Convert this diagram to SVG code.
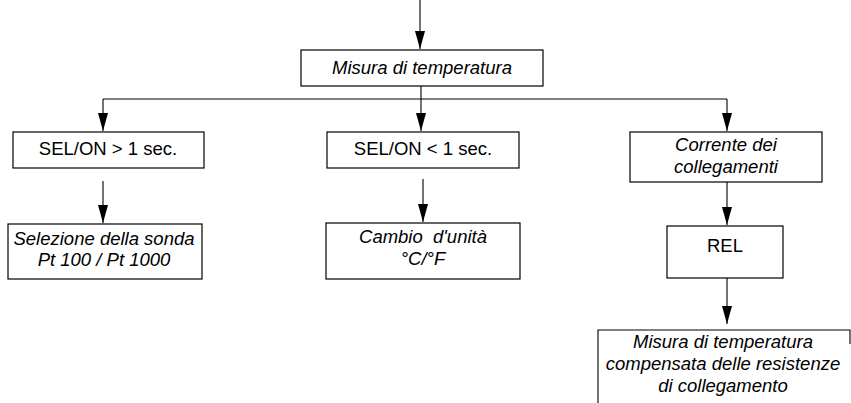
<svg xmlns="http://www.w3.org/2000/svg" width="851" height="403" viewBox="0 0 851 403">
<style>
.box{fill:#fff;stroke:#000;stroke-width:1.2}
.ln{fill:none;stroke:#000;stroke-width:1.1}
.t{font-family:"Liberation Sans",Arial,sans-serif;font-size:18.5px;fill:#000;text-anchor:middle}
.i{font-style:italic}
</style>
<defs>
<marker id="ah" viewBox="0 0 18 10" refX="18" refY="5" markerWidth="18" markerHeight="10" markerUnits="userSpaceOnUse" orient="auto">
<path d="M0,0 L18,5 L0,10 z" fill="#000"/>
</marker>
</defs>
<g id="connectors">
<line class="ln" x1="420" y1="0" x2="420" y2="49" marker-end="url(#ah)"/>
<line class="ln" x1="421" y1="86" x2="421" y2="99"/>
<line class="ln" x1="103" y1="99" x2="727" y2="99"/>
<line class="ln" x1="103" y1="99" x2="103" y2="131" marker-end="url(#ah)"/>
<line class="ln" x1="421" y1="99" x2="421" y2="131" marker-end="url(#ah)"/>
<line class="ln" x1="727" y1="99" x2="727" y2="131" marker-end="url(#ah)"/>
<line class="ln" x1="103" y1="181" x2="103" y2="223" marker-end="url(#ah)"/>
<line class="ln" x1="423" y1="179" x2="423" y2="222" marker-end="url(#ah)"/>
<line class="ln" x1="727" y1="182" x2="727" y2="225" marker-end="url(#ah)"/>
<line class="ln" x1="727" y1="278" x2="727" y2="324" marker-end="url(#ah)"/>
</g>
<g id="n-misura">
<rect class="box" x="301" y="50" width="242" height="36"/>
<text class="t i" x="422" y="74">Misura di temperatura</text>
</g>
<g id="n-sel-gt">
<rect class="box" x="13" y="132" width="191" height="36"/>
<text class="t" x="108" y="155">SEL/ON &gt; 1 sec.</text>
</g>
<g id="n-sel-lt">
<rect class="box" x="327" y="132" width="192" height="36"/>
<text class="t" x="423" y="155">SEL/ON &lt; 1 sec.</text>
</g>
<g id="n-corrente">
<rect class="box" x="630" y="132" width="192" height="50"/>
<text class="t i" x="726" y="151">Corrente dei</text>
<text class="t i" x="726" y="173">collegamenti</text>
</g>
<g id="n-selezione">
<rect class="box" x="8" y="224" width="194" height="55"/>
<text class="t i" x="104" y="245">Selezione della sonda</text>
<text class="t i" x="104" y="266">Pt 100 / Pt 1000</text>
</g>
<g id="n-cambio">
<rect class="box" x="326" y="223" width="194" height="56"/>
<text class="t i" x="423" y="243" xml:space="preserve">Cambio  d'unità</text>
<text class="t i" x="423" y="265">°C/°F</text>
</g>
<g id="n-rel">
<rect class="box" x="667" y="226" width="116" height="52"/>
<text class="t" x="725" y="252">REL</text>
</g>
<g id="n-compensata">
<path class="ln" d="M598,403 L598,330 L850,330 L850,344"/>
<text class="t i" x="723" y="348">Misura di temperatura</text>
<text class="t i" x="723" y="370">compensata delle resistenze</text>
<text class="t i" x="723" y="392">di collegamento</text>
</g>
</svg>
